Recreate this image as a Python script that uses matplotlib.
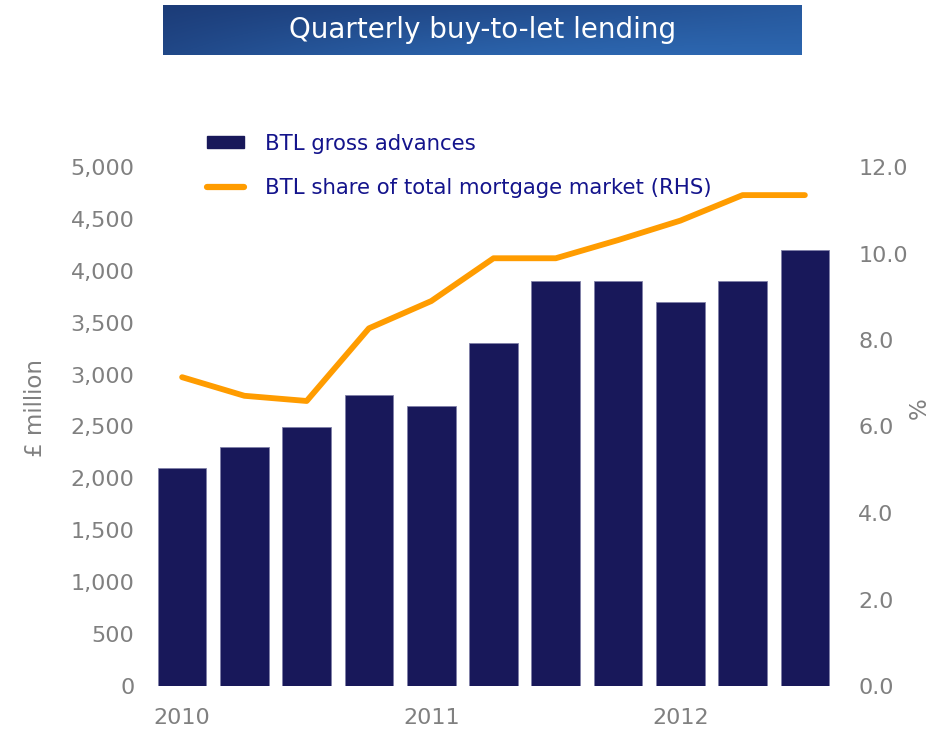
import numpy as np
import matplotlib.pyplot as plt
from matplotlib.lines import Line2D
from matplotlib.patches import Patch

# quarterly data, 2010 Q1 .. 2012 Q3
quarters = ['2010 Q1', '2010 Q2', '2010 Q3', '2010 Q4',
            '2011 Q1', '2011 Q2', '2011 Q3', '2011 Q4',
            '2012 Q1', '2012 Q2', '2012 Q3']
gross_advances = [2100, 2300, 2500, 2800, 2700, 3300, 3900, 3900, 3700, 3900, 4200]
market_share = [7.14, 6.71, 6.59, 8.27, 8.90, 9.89, 9.89, 10.31, 10.76, 11.35, 11.35]
year_labels = ['2010', '2011', '2012']
year_ticks = [0, 4, 8]

bar_color = '#18185a'
line_color = '#ff9c00'
grey = '#808080'
text_blue = '#14148c'

plt.rcParams['font.family'] = 'DejaVu Sans'

fig = plt.figure(figsize=(9.39, 7.31), dpi=100)

# title banner with a blue gradient
ban = fig.add_axes([163 / 939, 1 - 55 / 731, 639 / 939, 50 / 731])
gx = np.linspace(0, 1, 300)
gy = np.linspace(0, 1, 50)
X, Y = np.meshgrid(gx, gy)
shade = 0.55 * X + 0.45 * Y * (0.5 + 0.5 * np.sin(X * 3))
c0 = np.array([0x1c, 0x3c, 0x78]) / 255
c1 = np.array([0x30, 0x70, 0xbc]) / 255
img = c0[None, None, :] + (c1 - c0)[None, None, :] * np.clip(shade, 0, 1)[:, :, None]
ban.imshow(img, aspect='auto', extent=[0, 1, 0, 1], origin='upper')
ban.set_axis_off()
ban.text(0.5, 0.5, 'Quarterly buy-to-let lending', color='white',
         fontsize=20, ha='center', va='center', transform=ban.transAxes)

ax = fig.add_axes([151 / 939, 1 - 686 / 731, 685 / 939, 519 / 731])
x = np.arange(len(quarters))
ax.bar(x, gross_advances, width=0.78, color=bar_color, edgecolor='#8080a8', linewidth=0.6)
ax.set_xlim(-0.5, len(quarters) - 0.5)
ax.set_ylim(0, 5000)
ax.set_yticks(np.arange(0, 5001, 500))
ax.set_yticklabels([f'{v:,}' for v in range(0, 5001, 500)])
ax.set_xticks(year_ticks)
ax.set_xticklabels(year_labels)
ax.tick_params(length=0, labelsize=16, labelcolor=grey, pad=12)
ax.tick_params(axis='x', pad=16)
ax.set_ylabel('£ million', fontsize=16.5, color=grey)
ax.yaxis.set_label_coords(-0.152, 0.536)
for s in ax.spines.values():
    s.set_visible(False)

ax2 = ax.twinx()
ax2.plot(x, market_share, color=line_color, linewidth=4.2, solid_capstyle='round')
ax2.set_ylim(0, 12)
ax2.set_yticks(np.arange(0, 12.1, 2))
ax2.set_yticklabels([f'{v:.1f}' for v in np.arange(0, 12.1, 2)])
ax2.tick_params(length=0, labelsize=16, labelcolor=grey, pad=16)
ax2.set_ylabel('%', fontsize=16.5, color=grey)
ax2.yaxis.set_label_coords(1.105, 0.536)
for s in ax2.spines.values():
    s.set_visible(False)

handles = [Patch(facecolor=bar_color, edgecolor=bar_color),
           Line2D([0], [0], color=line_color, linewidth=4.5, solid_capstyle='round')]
labels = ['BTL gross advances', 'BTL share of total mortgage market (RHS)']
leg = fig.legend(handles, labels, loc='upper left', bbox_to_anchor=(198 / 939, 1 - 125 / 731),
                 frameon=False, fontsize=15.3, handlelength=1.75, handleheight=0.5,
                 handletextpad=1.0, labelspacing=1.13, borderaxespad=0)
for t in leg.get_texts():
    t.set_color(text_blue)

fig.savefig('out.png', dpi=100)
